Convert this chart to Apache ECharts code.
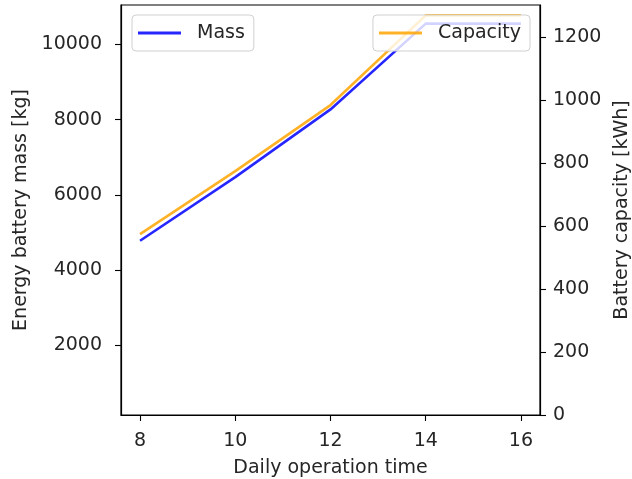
<!DOCTYPE html>
<html>
<head>
<meta charset="utf-8">
<script src="https://cdn.jsdelivr.net/npm/echarts@6/dist/echarts.min.js"></script>
<style>
  html, body { margin: 0; padding: 0; background: #fff; }
  #chart { width: 632px; height: 479px; }
</style>
</head>
<body>
<div id="chart"></div>
<script>
  // data
  let hours = [8, 10, 12, 14, 16];
  let massKg = [4780, 6470, 8270, 10550, 10550];
  let capacityKWh = [575, 775, 985, 1270, 1270];

  let xTicks = [8, 10, 12, 14, 16];
  let massTicks = [2000, 4000, 6000, 8000, 10000];
  let capTicks = [0, 200, 400, 600, 800, 1000, 1200];

  const font = 'DejaVu Sans';
  const fs = 19;
  const ink = '#262626';

  function pairs(xs, ys) {
    return xs.map((x, i) => [x, ys[i]]);
  }

  function plain(v) {
    return String(v);
  }

  function legendBox(name, pos) {
    return Object.assign({
      data: [name],
      top: 15,
      icon: 'rect',
      itemWidth: 43,
      itemHeight: 3,
      padding: [8, 9, 8, 6],
      backgroundColor: 'rgba(255,255,255,0.8)',
      borderColor: '#d0d0d0',
      borderWidth: 1,
      borderRadius: 4,
      textStyle: {
        fontFamily: font,
        fontSize: fs,
        color: ink,
        lineHeight: 20,
        padding: [0, 0, 0, 11]
      }
    }, pos);
  }

  let axisCommon = {
    axisLine: { show: true, lineStyle: { color: '#000', width: 1.2 } },
    axisTick: { show: true, length: 6, lineStyle: { color: '#000', width: 1.1 } },
    splitLine: { show: false },
    nameLocation: 'middle',
    nameTextStyle: { fontFamily: font, fontSize: fs, color: ink }
  };

  let option = {
    animation: false,
    backgroundColor: '#fff',
    grid: {
      left: 121,
      right: 92,
      top: 5,
      bottom: 64,
      outerBoundsMode: 'none',
      containLabel: false,
      show: true,
      borderColor: '#000',
      borderWidth: 1.2
    },
    legend: [
      legendBox('Mass', { left: 132 }),
      legendBox('Capacity', { right: 102 })
    ],
    xAxis: Object.assign({}, axisCommon, {
      type: 'value',
      min: 7.6,
      max: 16.4,
      name: 'Daily operation time',
      nameGap: 44,
      axisTick: Object.assign({}, axisCommon.axisTick, { customValues: xTicks }),
      axisLabel: {
        customValues: xTicks,
        formatter: plain,
        margin: 17,
        fontFamily: font,
        fontSize: fs,
        color: ink
      }
    }),
    yAxis: [
      Object.assign({}, axisCommon, {
        type: 'value',
        position: 'left',
        min: 148,
        max: 11045,
        name: 'Energy battery mass [kg]',
        nameGap: 87,
        nameRotate: 90,
        axisTick: Object.assign({}, axisCommon.axisTick, { customValues: massTicks }),
        axisLabel: {
          customValues: massTicks,
          formatter: plain,
          margin: 19,
          fontFamily: font,
          fontSize: fs,
          color: ink
        }
      }),
      Object.assign({}, axisCommon, {
        type: 'value',
        position: 'right',
        min: 0,
        max: 1303,
        name: 'Battery capacity [kWh]',
        nameGap: 70,
        nameRotate: 90,
        axisTick: Object.assign({}, axisCommon.axisTick, { customValues: capTicks }),
        axisLabel: {
          customValues: capTicks,
          formatter: plain,
          margin: 13,
          fontFamily: font,
          fontSize: fs,
          color: ink
        }
      })
    ],
    series: [{
        name: 'Mass',
        type: 'line',
        yAxisIndex: 0,
        showSymbol: false,
        data: pairs(hours, massKg),
        itemStyle: { color: 'rgba(0,0,255,0.85)' },
        lineStyle: { color: 'rgba(0,0,255,0.85)', width: 2.6 }
      },
      {
        name: 'Capacity',
        type: 'line',
        yAxisIndex: 1,
        showSymbol: false,
        data: pairs(hours, capacityKWh),
        itemStyle: { color: 'rgba(255,165,0,0.85)' },
        lineStyle: { color: 'rgba(255,165,0,0.85)', width: 2.6 }
      }
    ]
  };

  let chart = echarts.init(document.getElementById('chart'));
  chart.setOption(option);
  window.addEventListener('resize', function() {
    chart.resize();
  });
</script>
</body>
</html>
